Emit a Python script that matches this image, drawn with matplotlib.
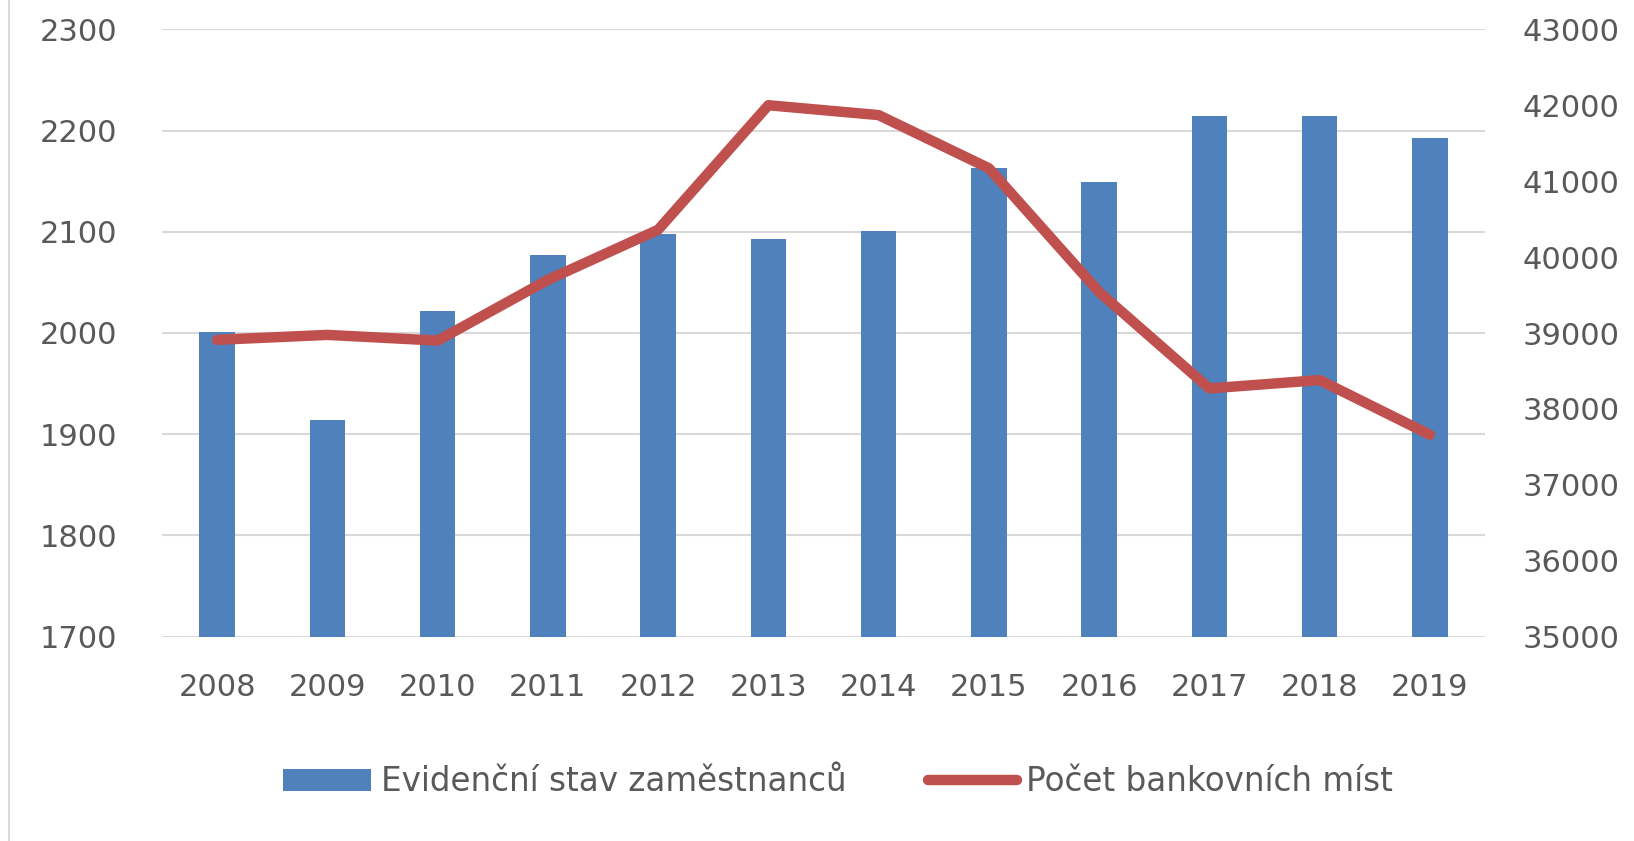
import matplotlib
matplotlib.use("Agg")
import matplotlib.pyplot as plt
from matplotlib.lines import Line2D
from matplotlib.patches import Patch

years = ["2008", "2009", "2010", "2011", "2012", "2013", "2014", "2015", "2016", "2017", "2018", "2019"]
employees = [2001, 1914, 2022, 2077, 2098, 2093, 2101, 2163, 2149, 2214, 2214, 2193]
branches = [38910, 38975, 38900, 39700, 40360, 42000, 41870, 41170, 39540, 38270, 38380, 37660]
left_ticks = [1700, 1800, 1900, 2000, 2100, 2200, 2300]
right_ticks = [35000, 36000, 37000, 38000, 39000, 40000, 41000, 42000, 43000]
bar_label = "Evidenční stav zaměstnanců"
line_label = "Počet bankovních míst"

BAR_C = "#4F81BD"
LINE_C = "#C0504D"
GRID_C = "#D9D9D9"
TXT_C = "#595959"
FS = 22
LEG_FS = 23.5

plt.rcParams["font.family"] = ["DejaVu Sans"]

fig = plt.figure(figsize=(16.34, 8.41), dpi=100)
W, H = 1634, 841
ax = fig.add_axes([162 / W, 1 - 636.7 / H, (1485 - 162) / W, (636.7 - 29.3) / H])
x = list(range(len(years)))

ax.bar(x, [e - left_ticks[0] for e in employees], bottom=left_ticks[0], width=0.32,
       color=BAR_C, zorder=2)
ax.set_ylim(left_ticks[0], left_ticks[-1])
ax.set_yticks(left_ticks)
ax.set_xlim(-0.5, len(years) - 0.5)
ax.set_xticks(x)
ax.set_xticklabels(years)
for y in left_ticks:
    ax.axhline(y, color=GRID_C, lw=1.5, zorder=1)
for s in ax.spines.values():
    s.set_visible(False)
ax.tick_params(axis="both", length=0, labelsize=FS, labelcolor=TXT_C)
ax.tick_params(axis="y", pad=32)
ax.tick_params(axis="x", pad=26)

ax2 = ax.twinx()
ax2.plot(x, branches, color=LINE_C, lw=7.5, solid_joinstyle="round", solid_capstyle="round", zorder=3)
ax2.set_ylim(right_ticks[0], right_ticks[-1])
ax2.set_yticks(right_ticks)
for s in ax2.spines.values():
    s.set_visible(False)
ax2.tick_params(axis="y", length=0, labelsize=FS, labelcolor=TXT_C, pad=27)

handles = [Patch(facecolor=BAR_C, edgecolor="none", label=bar_label),
           Line2D([0], [0], color=LINE_C, lw=7.5, solid_capstyle="round", label=line_label)]
leg = fig.legend(handles=handles, loc="center", bbox_to_anchor=(0.513, 1 - 781.7 / H),
                 ncol=2, frameon=False, fontsize=LEG_FS, handlelength=2.7, handleheight=0.68,
                 handletextpad=0.3, columnspacing=2.5, labelcolor=TXT_C)

# chart-area border (left edge visible)
fig.add_artist(Line2D([9 / W, 9 / W], [0, 1], transform=fig.transFigure, color=GRID_C, lw=1.5))

fig.savefig("out.png", dpi=100, facecolor="white")
